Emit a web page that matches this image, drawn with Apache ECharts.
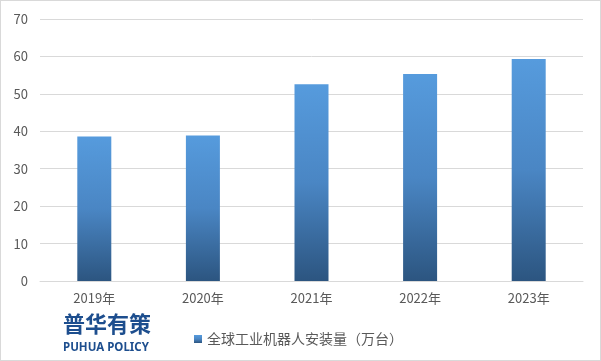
<!DOCTYPE html>
<html>
<head>
<meta charset="utf-8">
<script src="https://cdn.jsdelivr.net/npm/echarts@6/dist/echarts.min.js"></script>
<style>
html,body{margin:0;padding:0;background:#fff;}
#c{width:601px;height:361px;box-sizing:border-box;border:1px solid #d9d9d9;}
</style>
</head>
<body>
<div id="c"></div>
<script>
const categories = ['2019年','2020年','2021年','2022年','2023年'];
const values = [38.6, 38.9, 52.6, 55.3, 59.3];
const seriesName = '全球工业机器人安装量（万台）';
const yTicks = {min: 0, max: 70, interval: 10};

const chart = echarts.init(document.getElementById('c'), null, {renderer: 'canvas'});
const font = '"Noto Sans CJK SC", "Noto Sans", sans-serif';
chart.setOption({
  animation: false,
  textStyle: {fontFamily: font},
  grid: {left: 39, right: 17, top: 18, bottom: 79},
  legend: {
    data: [seriesName],
    left: 188, top: 326,
    itemWidth: 8, itemHeight: 8, icon: 'rect', itemGap: 4,
    textStyle: {color: '#595959', fontSize: 14, fontFamily: font}
  },
  xAxis: {
    type: 'category', data: categories,
    axisLine: {lineStyle: {color: '#d9d9d9'}},
    axisTick: {show: false},
    axisLabel: {color: '#595959', fontSize: 13, margin: 11}
  },
  yAxis: {
    type: 'value', min: yTicks.min, max: yTicks.max, interval: yTicks.interval,
    axisLine: {show: false}, axisTick: {show: false},
    axisLabel: {color: '#595959', fontSize: 13, margin: 12},
    splitLine: {lineStyle: {color: '#d9d9d9'}}
  },
  graphic: [
    {type: 'text', left: 62, top: 312, style: {text: '普华有策', fill: '#1d4e8e', font: 'bold 22px "Noto Sans CJK SC", sans-serif'}},
    {type: 'text', left: 62, top: 341, style: {text: 'PUHUA POLICY', fill: '#1d4e8e', font: 'bold 11.5px "Noto Sans", "Open Sans", sans-serif'}}
  ],
  series: [{
    name: seriesName, type: 'bar', data: values, barWidth: 34,
    itemStyle: {
      color: new echarts.graphic.LinearGradient(0, 0, 0, 1, [
        {offset: 0, color: '#569bdd'},
        {offset: 0.5, color: '#4a86c4'},
        {offset: 1, color: '#2c5580'}
      ])
    }
  }]
});
</script>
</body>
</html>
